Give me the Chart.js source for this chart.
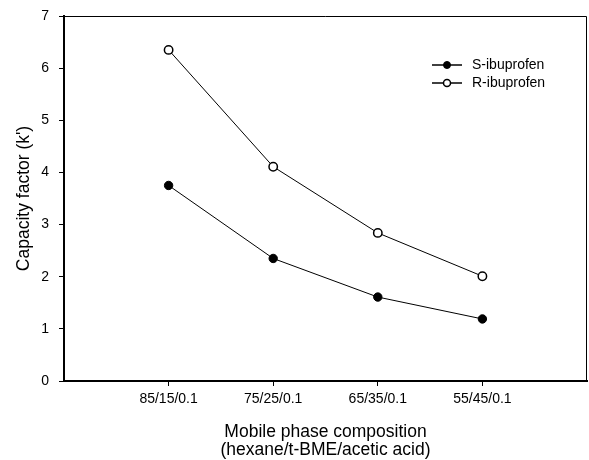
<!DOCTYPE html>
<html>
<head>
<meta charset="utf-8">
<script src="https://cdn.jsdelivr.net/npm/chart.js@4.4.1/dist/chart.umd.min.js"></script>
<style>
  html, body { margin: 0; padding: 0; background: #fff; }
  #wrap { width: 589px; height: 460px; position: relative; }
</style>
</head>
<body>
<div id="wrap"><canvas id="chart"></canvas></div>
<script>
// mobile phase compositions (hexane/t-BME/acetic acid)
const categories = ['85/15/0.1', '75/25/0.1', '65/35/0.1', '55/45/0.1'];
const sIbuprofen = [3.75, 2.35, 1.61, 1.19];
const rIbuprofen = [6.35, 4.11, 2.84, 2.01];
const yTicks = [0, 1, 2, 3, 4, 5, 6, 7];

const font = 'Liberation Sans, Arial, sans-serif';

function toPoints(values) {
    return values.map((v, i) => ({ x: i + 1, y: v }));
}

function noPadding(scale) {
    scale.paddingLeft = 0;
    scale.paddingRight = 0;
    scale.paddingTop = 0;
    scale.paddingBottom = 0;
}

// frame (top/right thin border) + legend with line+marker symbols
const framePlugin = {
    id: 'frame',
    afterDraw(chart) {
        const { ctx, chartArea: a } = chart;
        ctx.save();
        ctx.strokeStyle = '#000';
        ctx.lineWidth = 1;
        ctx.beginPath();
        ctx.moveTo(a.left, a.top + 0.5);
        ctx.lineTo(a.right - 0.5, a.top + 0.5);
        ctx.lineTo(a.right - 0.5, a.bottom);
        ctx.stroke();

        const items = chart.data.datasets;
        const x0 = 432, x1 = 462, tx = 472;
        let y = 65;
        ctx.font = '14px ' + font;
        ctx.textBaseline = 'middle';
        ctx.fillStyle = '#000';
        items.forEach((ds) => {
            ctx.lineWidth = ds.borderWidth + 0.5;
            ctx.beginPath();
            ctx.moveTo(x0, y);
            ctx.lineTo(x1, y);
            ctx.stroke();
            ctx.beginPath();
            ctx.arc((x0 + x1) / 2, y, 3.5, 0, Math.PI * 2);
            ctx.fillStyle = ds.pointBackgroundColor;
            ctx.fill();
            ctx.lineWidth = ds.pointBorderWidth;
            ctx.stroke();
            ctx.fillStyle = '#000';
            ctx.fillText(ds.label, tx, y);
            y += 18;
        });
        ctx.restore();
    },
};

new Chart(document.getElementById('chart'), {
    type: 'scatter',
    data: {
        datasets: [
            {
                label: 'S-ibuprofen',
                data: toPoints(sIbuprofen),
                showLine: true,
                borderColor: '#000',
                borderWidth: 1,
                pointRadius: 4.2,
                pointBackgroundColor: '#000',
                pointBorderColor: '#000',
                pointBorderWidth: 1,
            },
            {
                label: 'R-ibuprofen',
                data: toPoints(rIbuprofen),
                showLine: true,
                borderColor: '#000',
                borderWidth: 1,
                pointRadius: 4.2,
                pointBackgroundColor: '#fff',
                pointBorderColor: '#000',
                pointBorderWidth: 1.5,
            },
        ],
    },
    options: {
        responsive: true,
        maintainAspectRatio: false,
        animation: false,
        layout: { autoPadding: false, padding: { top: 16, right: 2, left: 0, bottom: 0 } },
        plugins: {
            legend: { display: false },
            tooltip: { enabled: false },
        },
        scales: {
            x: {
                type: 'linear',
                min: 0,
                max: categories.length + 1,
                afterBuildTicks: (scale) => {
                    scale.ticks = categories.map((c, i) => ({ value: i + 1 }));
                },
                afterFit: (scale) => {
                    scale.height = 79;
                    noPadding(scale);
                },
                ticks: {
                    color: '#000',
                    font: { family: font, size: 14 },
                    padding: 5,
                    maxRotation: 0,
                    callback: (v) => categories[v - 1] || '',
                },
                grid: { drawOnChartArea: false, color: '#000', tickLength: 5 },
                border: { color: '#000', width: 2 },
                title: {
                    display: true,
                    text: ['Mobile phase composition', '(hexane/t-BME/acetic acid)'],
                    color: '#000',
                    font: { family: font, size: 17.5, lineHeight: 1.03 },
                    padding: { top: 0, bottom: 1 },
                },
            },
            y: {
                min: 0,
                max: 7,
                afterBuildTicks: (scale) => {
                    scale.ticks = yTicks.map((v) => ({ value: v }));
                },
                afterFit: (scale) => {
                    scale.width = 64;
                    noPadding(scale);
                },
                ticks: {
                    color: '#000',
                    font: { family: font, size: 14 },
                    padding: 10,
                },
                grid: { drawOnChartArea: false, color: '#000', tickLength: 5 },
                border: { color: '#000', width: 2 },
                title: {
                    display: true,
                    text: "Capacity factor (k')",
                    color: '#000',
                    font: { family: font, size: 17.5 },
                    padding: { top: 13.5, bottom: 0 },
                },
            },
        },
    },
    plugins: [framePlugin],
});
</script>
</body>
</html>
